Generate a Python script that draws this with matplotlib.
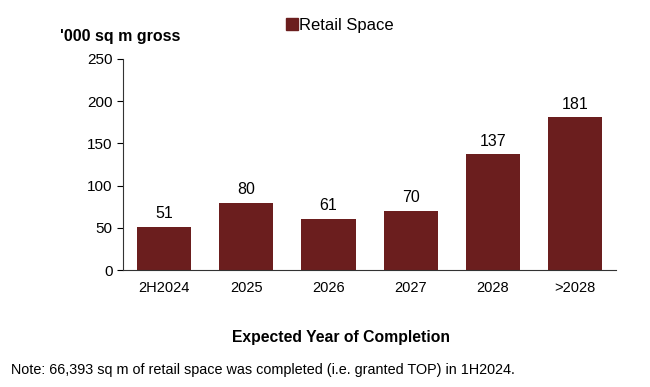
import matplotlib
matplotlib.use("Agg")
import matplotlib.pyplot as plt
from matplotlib.patches import Patch

plt.rcParams['font.family'] = ['Liberation Sans', 'DejaVu Sans']

years = ["2H2024", "2025", "2026", "2027", "2028", ">2028"]
retail_space = [51, 80, 61, 70, 137, 181]
y_ticks = [0, 50, 100, 150, 200, 250]

bar_color = "#6b1e1e"

fig = plt.figure(figsize=(6.5, 3.87), dpi=100)
ax = fig.add_axes([0.189, 0.302, 0.759, 0.546])

x = range(len(years))
bars = ax.bar(x, retail_space, width=0.66, color=bar_color)
for xi, v in zip(x, retail_space):
    ax.annotate(str(v), (xi, v), xytext=(0, 4), textcoords="offset points",
                ha="center", va="bottom", fontsize=11.5)

ax.set_xlim(-0.5, 5.5)
ax.set_ylim(0, 250)
ax.set_yticks(y_ticks)
ax.set_xticks(list(x))
ax.set_xticklabels(years)
ax.tick_params(axis="x", length=0, labelsize=10.5, pad=8)
ax.tick_params(axis="y", length=4.3, labelsize=11, pad=3, direction="out")
for s in ["top", "right"]:
    ax.spines[s].set_visible(False)
ax.spines["left"].set_color("#333333")
ax.spines["bottom"].set_color("#333333")

fig.text(0.092, 0.905, "'000 sq m gross", fontsize=11.5, fontweight="bold", va="center")
ax.legend(handles=[Patch(color=bar_color, label="Retail Space")], loc="center",
          bbox_to_anchor=(0.523, 0.935), bbox_transform=fig.transFigure, frameon=False,
          fontsize=12, handlelength=0.7, handleheight=0.7, handletextpad=0.1)
fig.text(0.525, 0.127, "Expected Year of Completion", fontsize=11.3,
         fontweight="bold", ha="center", va="center")
fig.text(0.017, 0.044, "Note: 66,393 sq m of retail space was completed (i.e. granted TOP) in 1H2024.",
         fontsize=10.4, va="center")

fig.savefig("out.png", dpi=100)
